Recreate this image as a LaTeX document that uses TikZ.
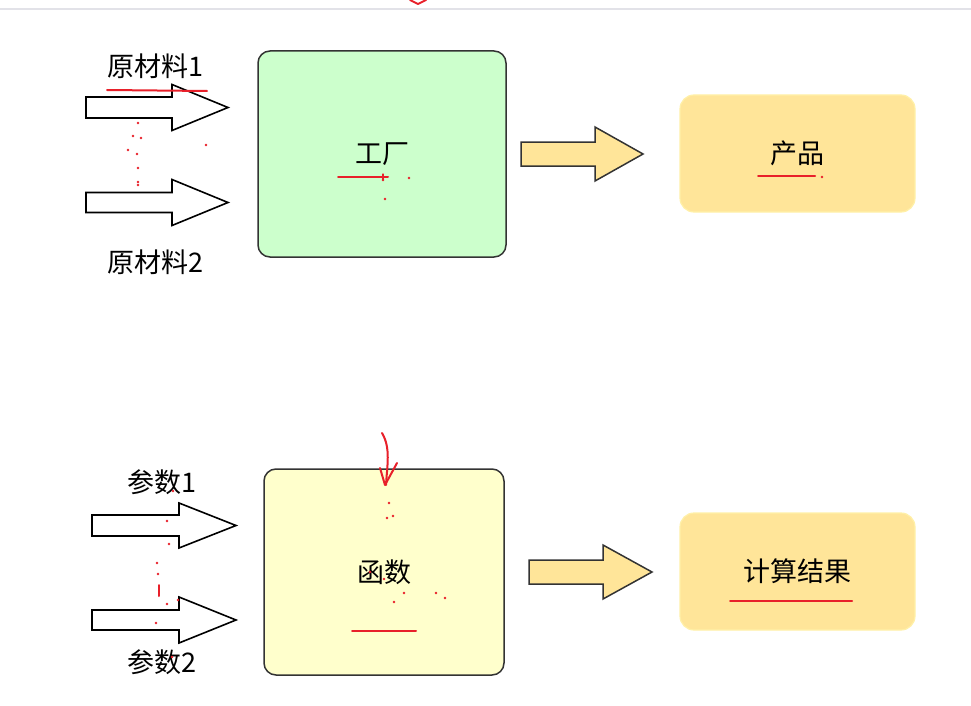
\documentclass[tikz,border=0pt]{standalone}
\usepackage{fontspec}
\setmainfont{Noto Sans CJK SC}
\usetikzlibrary{positioning}
\definecolor{boxgreen}{HTML}{CCFFCC}
\definecolor{boxyellow}{HTML}{FFFFCC}
\definecolor{resultfill}{HTML}{FFE599}
\definecolor{resultline}{HTML}{FFF0A8}
\definecolor{edgegray}{HTML}{333333}
\definecolor{penred}{HTML}{E8202A}
\definecolor{rulegray}{HTML}{E2E2E8}

% fat arrow: style, tail x, mid y, tip x, head base x, shaft half, head half
\newcommand{\fatarrow}[7]{%
  \draw[#1] (#2,#3-#6) -- (#5,#3-#6) -- (#5,#3-#7) -- (#4,#3)
    -- (#5,#3+#7) -- (#5,#3+#6) -- (#2,#3+#6) -- cycle;}

\begin{document}
\begin{tikzpicture}[x=1pt, y=-1pt,
  machine/.style={rectangle, rounded corners=12pt, draw=edgegray,
                  line width=1.5pt, font=\fontsize{27}{32}\selectfont},
  result/.style={rectangle, rounded corners=14pt, draw=resultline,
                 fill=resultfill, line width=1.2pt,
                 font=\fontsize{27}{32}\selectfont},
  label/.style={font=\fontsize{27}{32}\selectfont, inner sep=0pt},
  inarrow/.style={draw=black, fill=white, line width=1.6pt},
  outarrow/.style={draw=edgegray, fill=resultfill, line width=1.5pt},
  redmark/.style={draw=penred, line width=2pt, line cap=round},
  reddot/.style={fill=penred}
]
\useasboundingbox (0,0) rectangle (971,706);

% top rule of the page
\draw[rulegray, line width=1.5pt] (0,9) -- (971,9);
\draw[redmark, line join=round] (410,0) -- (418,4) -- (426,0);

% factory row
\node[machine, fill=boxgreen, minimum width=248pt, minimum height=206pt]
  (factory) at (382,154) {工厂};
\node[result, minimum width=235pt, minimum height=117pt]
  (product) at (797.5,153.5) {产品};
\node[label] (mat1) at (155,66) {原材料1};
\node[label] (mat2) at (155,262) {原材料2};
\fatarrow{inarrow}{86}{107.5}{228}{172}{10.5}{23}
\fatarrow{inarrow}{86}{202.5}{228}{172}{10}{23}
\fatarrow{outarrow}{521}{154}{643}{595}{12}{27}

% function row
\node[machine, fill=boxyellow, minimum width=240pt, minimum height=206pt]
  (func) at (384,572) {函数};
\node[result, minimum width=235pt, minimum height=117pt]
  (calc) at (797.5,571.5) {计算结果};
\node[label] (par1) at (162,482) {参数1};
\node[label] (par2) at (162,662) {参数2};
\fatarrow{inarrow}{92}{525.5}{236}{179}{10.5}{22.5}
\fatarrow{inarrow}{92}{620}{236}{179}{10}{23}
\fatarrow{outarrow}{529}{572}{652}{603}{12}{27}

% red pen notes
\draw[redmark] (107,90) -- (207,91);
\draw[redmark] (338,177) -- (388,177);
\draw[redmark, line width=1.2pt] (383,174) -- (383,180);
\draw[redmark] (758,176) -- (815,176);
\draw[redmark] (352,631) -- (416,631);
\draw[redmark] (730,601) -- (852,601);
\draw[redmark] (159,585) -- (159,596);
\draw[redmark] (382,433) .. controls (391,448) and (387,466) .. (386,485);
\draw[redmark, line join=round] (380,468) -- (385,485) -- (397,463);
\foreach \dx/\dy in {138/123, 133/136, 141/138, 206/145, 128/150, 137/154,
    138/168, 138/182, 138/185, 383/180, 409/178, 385/199, 822/177,
    173/491, 167/521, 169/544, 157/563, 158/574, 167/604, 178/600,
    156/623, 172/657, 389/503, 387/518, 393/516, 370/572, 384/579,
    404/593, 394/602, 436/593, 445/598}
  \fill[reddot] (\dx,\dy) circle (1.3pt);

\end{tikzpicture}
\end{document}
